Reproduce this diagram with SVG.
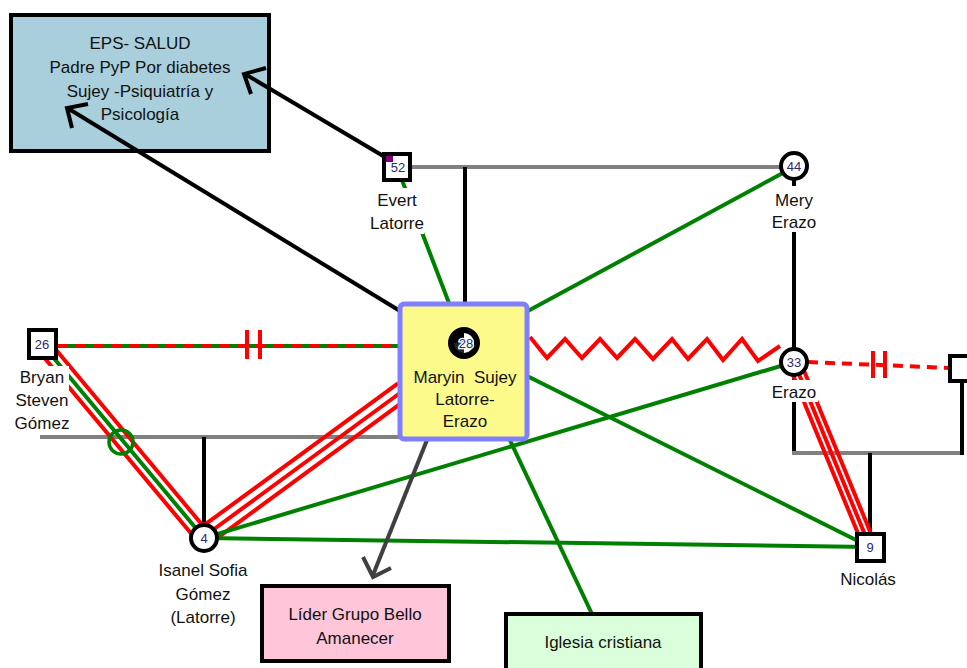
<svg xmlns="http://www.w3.org/2000/svg" width="967" height="668" viewBox="0 0 967 668">
<style>
text{font-family:"Liberation Sans",Arial,sans-serif;font-size:17px;fill:#111;text-anchor:middle}
.num{font-size:13px;fill:#2b2b66}
.ln{fill:none;stroke-width:4;stroke-linecap:butt}
.g{stroke:#008000}
.r{stroke:#ff0000}
.k{stroke:#000}
.gr{stroke:#808080}
.dk{stroke:#404040}
.sq{fill:#fff;stroke:#000;stroke-width:4}
.bg{fill:#fff}
</style>
<g id="eps">
  <rect x="11" y="15" width="258" height="136" fill="#a9cfdc" stroke="#000" stroke-width="4"/>
  <text x="140" y="49">EPS- SALUD</text>
  <text x="140" y="73">Padre PyP Por diabetes</text>
  <text x="140" y="97">Sujey -Psiquiatría y</text>
  <text x="140" y="120">Psicología</text>
</g>
<g id="connectors">
  <line class="ln gr" x1="410" y1="167" x2="782" y2="167"/>
  <line class="ln k" x1="465" y1="167" x2="465" y2="305"/>
  <line class="ln k" x1="794" y1="178" x2="794" y2="350"/>
  <line class="ln gr" x1="40" y1="437" x2="400" y2="437"/>
  <line class="ln k" x1="204" y1="437" x2="204" y2="526"/>
  <line class="ln k" x1="794" y1="374" x2="794" y2="455"/>
  <line class="ln gr" x1="792" y1="453" x2="964" y2="453"/>
  <line class="ln k" x1="962" y1="380" x2="962" y2="455"/>
  <line class="ln k" x1="870" y1="453" x2="870" y2="535"/>
  <line class="ln r" x1="47.4" y1="339.5" x2="209.4" y2="533.5"/>
  <line class="ln g" x1="42" y1="344" x2="204" y2="538"/>
  <line class="ln r" x1="36.6" y1="348.5" x2="198.6" y2="542.5"/>
  <circle cx="121" cy="442" r="12" fill="none" stroke="#008000" stroke-width="3.5"/>
  <line class="ln r" x1="200.7" y1="527.7" x2="398" y2="383.3"/>
  <line class="ln r" x1="206" y1="535" x2="400" y2="393"/>
  <line class="ln r" x1="211.3" y1="542.3" x2="405" y2="400.3"/>
  <line class="ln r" x1="788.5" y1="364.3" x2="864.5" y2="549.3"/>
  <line class="ln r" x1="794" y1="362" x2="870" y2="547"/>
  <line class="ln r" x1="799.5" y1="359.7" x2="875.5" y2="544.7"/>
  <line class="ln g" x1="204" y1="538" x2="794" y2="362"/>
  <line class="ln g" x1="204" y1="538" x2="870" y2="547"/>
  <line class="ln g" x1="465" y1="345" x2="870" y2="547"/>
  <line class="ln g" x1="465" y1="345" x2="794" y2="167"/>
  <line class="ln g" x1="465" y1="345" x2="592" y2="614"/>
  <line class="ln g" x1="397" y1="167" x2="465" y2="345"/>
  <line class="ln g" x1="57" y1="346" x2="400" y2="346"/>
  <line class="ln r" x1="57" y1="346" x2="400" y2="346" stroke-dasharray="10 8"/>
  <line class="ln r" x1="247" y1="330" x2="247" y2="359" stroke-width="4.5" stroke-linecap="round"/>
  <line class="ln r" x1="260" y1="330" x2="260" y2="359" stroke-width="4.5" stroke-linecap="round"/>
  <polyline class="ln r" stroke-linejoin="miter" points="530,337 547,358 565,339 582,358 600,339 617,358 635,339 653,359 672,339 688,359 707,339 723,360 742,339 758,361 780,346"/>
  <line class="ln r" x1="808" y1="362" x2="950" y2="368" stroke-dasharray="10 7"/>
  <line class="ln r" x1="873" y1="351" x2="873" y2="378" stroke-width="4.5" stroke-linecap="round"/>
  <line class="ln r" x1="885" y1="351" x2="885" y2="378" stroke-width="4.5" stroke-linecap="round"/>
  <line class="ln k" x1="390" y1="160" x2="245" y2="74"/>
  <polyline class="ln k" points="266,68 244,74 251,94"/>
  <line class="ln k" x1="400" y1="311" x2="69" y2="109"/>
  <polyline class="ln k" points="88,104 67,108 72,128"/>
  <line class="ln dk" x1="465" y1="345" x2="373" y2="575"/>
  <polyline class="ln dk" points="363,557 373,577 391,568"/>
</g>
<g id="n52">
  <rect class="bg" x="370" y="188" width="54" height="46"/>
  <rect class="sq" x="384" y="154" width="26" height="26"/>
  <rect x="386" y="156" width="7" height="6" fill="#800080"/>
  <text class="num" x="398" y="172">52</text>
  <text x="397" y="206">Evert</text>
  <text x="397" y="229">Latorre</text>
</g>
<g id="n44">
  <rect class="bg" x="770" y="186" width="48" height="46"/>
  <circle cx="794" cy="166" r="13" fill="#fff" stroke="#000" stroke-width="4"/>
  <text class="num" x="794" y="171">44</text>
  <text x="794" y="206">Mery</text>
  <text x="794" y="228">Erazo</text>
</g>
<g id="n28">
  <rect x="400" y="304" width="127" height="135" rx="4" fill="#fdfa8c" stroke="#8080ff" stroke-width="5"/>
  <circle cx="464" cy="343" r="13" fill="#fff" stroke="#000" stroke-width="6"/>
  <path d="M464,343 L464,330 A13,13 0 0 0 451,343 Z" fill="#000"/>
  <path d="M464,343 L451,343 A13,13 0 0 0 464,356 Z" fill="#000" opacity="0.85"/>
  <text class="num" x="466" y="348" stroke="#fff" stroke-width="2.5" paint-order="stroke">28</text>
  <text x="465" y="383" style="white-space:pre">Maryin  Sujey</text>
  <text x="465" y="405">Latorre-</text>
  <text x="465" y="427">Erazo</text>
</g>
<g id="n26">
  <rect class="bg" x="13" y="366" width="56" height="68"/>
  <rect class="sq" x="29" y="330" width="27" height="28"/>
  <text class="num" x="42" y="349">26</text>
  <text x="42" y="383">Bryan</text>
  <text x="42" y="406">Steven</text>
  <text x="42" y="429">Gómez</text>
</g>
<g id="n4">
  <circle cx="204" cy="538" r="13" fill="#fff" stroke="#000" stroke-width="4"/>
  <text class="num" x="204" y="543">4</text>
  <text x="203" y="576">Isanel Sofia</text>
  <text x="203" y="600">Gómez</text>
  <text x="203" y="623">(Latorre)</text>
</g>
<g id="n33">
  <rect class="bg" x="770" y="380" width="48" height="22"/>
  <circle cx="794" cy="362" r="13" fill="#fff" stroke="#000" stroke-width="4"/>
  <text class="num" x="794" y="367">33</text>
  <text x="794" y="398">Erazo</text>
</g>
<g id="nright">
  <rect class="sq" x="950" y="356" width="30" height="25"/>
</g>
<g id="n9">
  <rect class="sq" x="857" y="534" width="27" height="27"/>
  <text class="num" x="870" y="552">9</text>
  <text x="868" y="585">Nicolás</text>
</g>
<g id="lider">
  <rect x="262" y="586" width="187" height="75" fill="#ffc6da" stroke="#000" stroke-width="4"/>
  <text x="355" y="620">Líder Grupo Bello</text>
  <text x="355" y="644">Amanecer</text>
</g>
<g id="iglesia">
  <rect x="506" y="614" width="195" height="60" fill="#dbffdb" stroke="#000" stroke-width="4"/>
  <text x="603" y="648">Iglesia cristiana</text>
</g>
</svg>
